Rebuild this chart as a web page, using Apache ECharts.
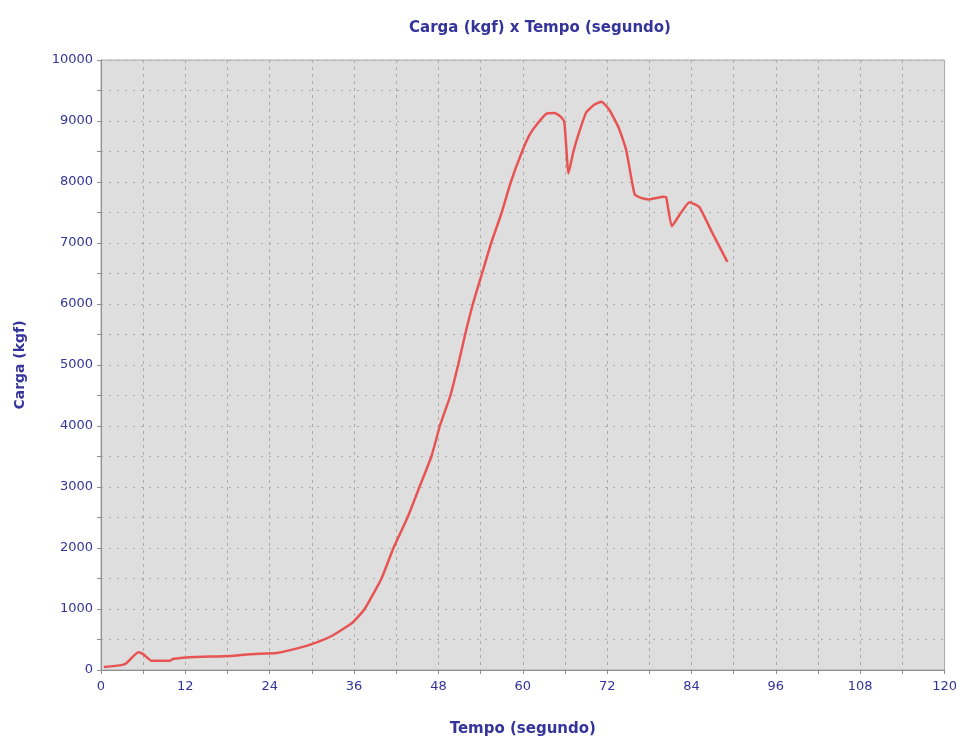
<!DOCTYPE html>
<html>
<head>
<meta charset="utf-8">
<script src="https://cdn.jsdelivr.net/npm/echarts@6/dist/echarts.min.js"></script>
<style>
  html, body { margin: 0; padding: 0; background: #fff; }
  #chart { width: 960px; height: 742px; }
</style>
</head>
<body>
<div id="chart"></div>
<script>
// tempo (s) e carga (kgf)
const tempo = [0.4, 2.9, 3.6, 5.3, 6.0, 7.2, 9.8, 10.2, 12.6, 18.3, 21.2, 25.0, 27.8, 30.6, 33.0,
  35.8, 37.5, 39.9, 41.6, 43.6, 45.3, 47.0, 48.2, 49.7, 50.8, 51.8, 52.9, 54.2, 55.5, 57.0,
  58.3, 59.9, 61.0, 62.1, 63.4, 64.5, 65.3, 65.9, 66.5, 67.2, 68.0, 69.0,
  70.2, 71.2, 72.3, 73.6, 74.7, 75.9, 76.8, 78.0, 80.0, 80.4, 81.2, 82.4, 83.7, 85.1, 86.9, 89.1]
const carga = [50, 80, 110, 290, 260, 150, 150, 180, 210, 230, 260, 280, 350, 450, 570,
  780, 1000, 1500, 2000, 2500, 3000, 3500, 4000, 4500, 5000, 5500, 6000, 6500, 7000, 7500,
  8000, 8500, 8780, 8960, 9120, 9130, 9080, 8990, 8140, 8500, 8810, 9135,
  9270, 9315, 9185, 8900, 8530, 7800, 7740, 7715, 7760, 7750, 7275, 7480, 7670, 7590, 7180, 6690]

const navy = '#34349a'

const chart = echarts.init(document.getElementById('chart'))
chart.setOption({
  animation: false,
  title: {
    text: 'Carga (kgf) x Tempo (segundo)',
    left: 535,
    textAlign: 'center',
    top: 16,
    textStyle: { color: navy, fontSize: 15, fontWeight: 'bold', fontFamily: 'DejaVu Sans' }
  },
  grid: {
    left: 101, right: 14, top: 60, bottom: 69,
    show: true,
    backgroundColor: '#dedede',
    borderColor: '#a8a8a8',
    borderWidth: 1
  },
  xAxis: {
    type: 'value',
    min: 0, max: 120, interval: 12,
    name: 'Tempo (segundo)',
    nameLocation: 'middle',
    nameGap: 52,
    nameTextStyle: { color: navy, fontSize: 15, fontWeight: 'bold', fontFamily: 'DejaVu Sans' },
    axisLine: { lineStyle: { color: '#909090' } },
    axisTick: { show: true, length: 4, lineStyle: { color: '#909090' } },
    minorTick: { show: true, splitNumber: 2, length: 4, lineStyle: { color: '#909090' } },
    axisLabel: { color: navy, fontSize: 13, fontFamily: 'DejaVu Sans', margin: 10 },
    splitLine: { show: true, lineStyle: { color: '#ababab', type: [3, 4] } },
    minorSplitLine: { show: true, lineStyle: { color: '#ababab', type: [3, 4] } }
  },
  yAxis: {
    type: 'value',
    min: 0, max: 10000, interval: 1000,
    name: 'Carga (kgf)',
    nameLocation: 'middle',
    nameGap: 74,
    nameTextStyle: { color: navy, fontSize: 14, fontWeight: 'bold', fontFamily: 'DejaVu Sans' },
    axisLine: { show: true, lineStyle: { color: '#909090' } },
    axisTick: { show: true, length: 4, lineStyle: { color: '#909090' } },
    minorTick: { show: true, splitNumber: 2, length: 4, lineStyle: { color: '#909090' } },
    axisLabel: { color: navy, fontSize: 13, fontFamily: 'DejaVu Sans', margin: 8, formatter: v => String(v) },
    splitLine: { show: true, lineStyle: { color: '#ababab', type: [2, 6] } },
    minorSplitLine: { show: true, lineStyle: { color: '#ababab', type: [2, 6] } }
  },
  series: [{
    type: 'line',
    data: tempo.map((t, i) => [t, carga[i]]),
    showSymbol: false,
    smooth: 0.15,
    lineStyle: { color: '#e85454', width: 2.5 }
  }]
})
</script>
</body>
</html>
